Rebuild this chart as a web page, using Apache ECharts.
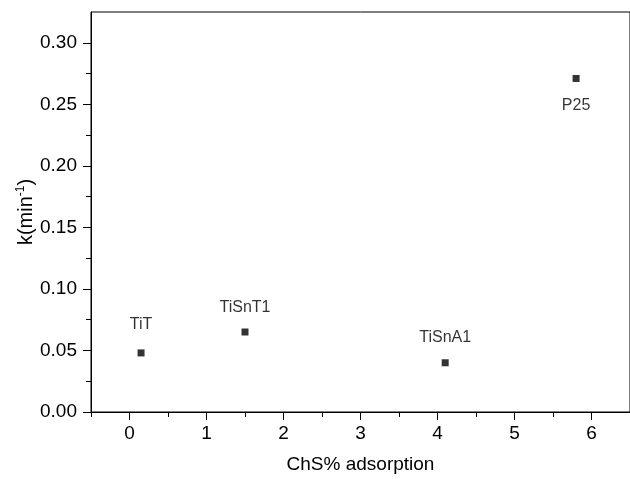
<!DOCTYPE html>
<html>
<head>
<meta charset="utf-8">
<script src="https://cdn.jsdelivr.net/npm/echarts@6/dist/echarts.min.js"></script>
<style>
html,body{margin:0;padding:0;background:#fff;}
#chart{width:630px;height:479px;}
</style>
</head>
<body>
<div id="chart"></div>
<script>
// ---- data ----
var sampleNames = ['TiT', 'TiSnT1', 'TiSnA1', 'P25'];
var adsorption = [0.15, 1.5, 4.1, 5.8];      // ChS% adsorption
var kValues = [0.048, 0.065, 0.040, 0.271];  // k (min^-1)
var xMajorTicks = [0, 1, 2, 3, 4, 5, 6];
var xMinorTicks = [-0.5, 0.5, 1.5, 2.5, 3.5, 4.5, 5.5, 6.5];
var yMajorTicks = [0, 0.05, 0.10, 0.15, 0.20, 0.25, 0.30];
var yMinorTicks = [0.025, 0.075, 0.125, 0.175, 0.225, 0.275];

// ---- label placement (style only) ----
var labelPlacement = {
  'TiT':    {position: 'top', distance: 17},
  'TiSnT1': {position: 'top', distance: 13},
  'TiSnA1': {position: 'top', distance: 14},
  'P25':    {position: 'bottom', distance: 16}
};

var FONT = 'Liberation Sans, Arial, Helvetica, sans-serif';

var points = sampleNames.map(function (n, i) {
  var p = labelPlacement[n];
  return {
    name: n,
    value: [adsorption[i], kValues[i]],
    label: {position: p.position, distance: p.distance}
  };
});

var chart = echarts.init(document.getElementById('chart'), null, {renderer: 'canvas'});
chart.setOption({
  animation: false,
  backgroundColor: '#fff',
  grid: {
    left: 91, right: -9, top: 12, bottom: 65,
    show: true, borderColor: '#000', borderWidth: 1, backgroundColor: 'transparent'
  },
  xAxis: [{
    type: 'value', min: -0.5, max: 6.5, position: 'bottom',
    name: 'ChS% adsorption', nameLocation: 'middle', nameGap: 43, nameMoveOverlap: false,
    nameTextStyle: {fontFamily: FONT, fontSize: 19, color: '#000'},
    axisLine: {show: true, onZero: false, lineStyle: {color: '#000', width: 1}},
    axisTick: {show: true, length: 8, lineStyle: {color: '#000'}, customValues: xMajorTicks},
    axisLabel: {fontFamily: FONT, fontSize: 19, color: '#000', margin: 12, customValues: xMajorTicks,
      formatter: function (v) { return String(v); }},
    splitLine: {show: false}
  }, {
    type: 'value', min: -0.5, max: 6.5, position: 'bottom', offset: 0,
    axisLine: {show: false, onZero: false},
    axisTick: {show: true, length: 5, lineStyle: {color: '#000'}, customValues: xMinorTicks},
    axisLabel: {show: false},
    splitLine: {show: false}
  }],
  yAxis: [{
    type: 'value', min: 0, max: 0.325, position: 'left',
    name: '{a|k(min}{b|-1}{a|)}', nameLocation: 'middle', nameGap: 54, nameMoveOverlap: false,
    nameTextStyle: {
      fontFamily: FONT, color: '#000',
      rich: {
        a: {fontFamily: FONT, fontSize: 20, color: '#000', lineHeight: 22},
        b: {fontFamily: FONT, fontSize: 12, color: '#000', verticalAlign: 'top', lineHeight: 12}
      }
    },
    axisLine: {show: true, onZero: false, lineStyle: {color: '#000', width: 1}},
    axisTick: {show: true, length: 8, lineStyle: {color: '#000'}, customValues: yMajorTicks},
    axisLabel: {fontFamily: FONT, fontSize: 19, color: '#000', margin: 14, customValues: yMajorTicks,
      formatter: function (v) { return v.toFixed(2); }},
    splitLine: {show: false}
  }, {
    type: 'value', min: 0, max: 0.325, position: 'left', offset: 0,
    axisLine: {show: false, onZero: false},
    axisTick: {show: true, length: 5, lineStyle: {color: '#000'}, customValues: yMinorTicks},
    axisLabel: {show: false},
    splitLine: {show: false}
  }],
  series: [{
    type: 'scatter',
    xAxisIndex: 0, yAxisIndex: 0,
    symbol: 'rect', symbolSize: 7,
    itemStyle: {color: '#000'},
    label: {
      show: true, formatter: '{b}',
      fontFamily: FONT, fontSize: 16, color: '#000'
    },
    data: points
  }]
});
</script>
</body>
</html>
